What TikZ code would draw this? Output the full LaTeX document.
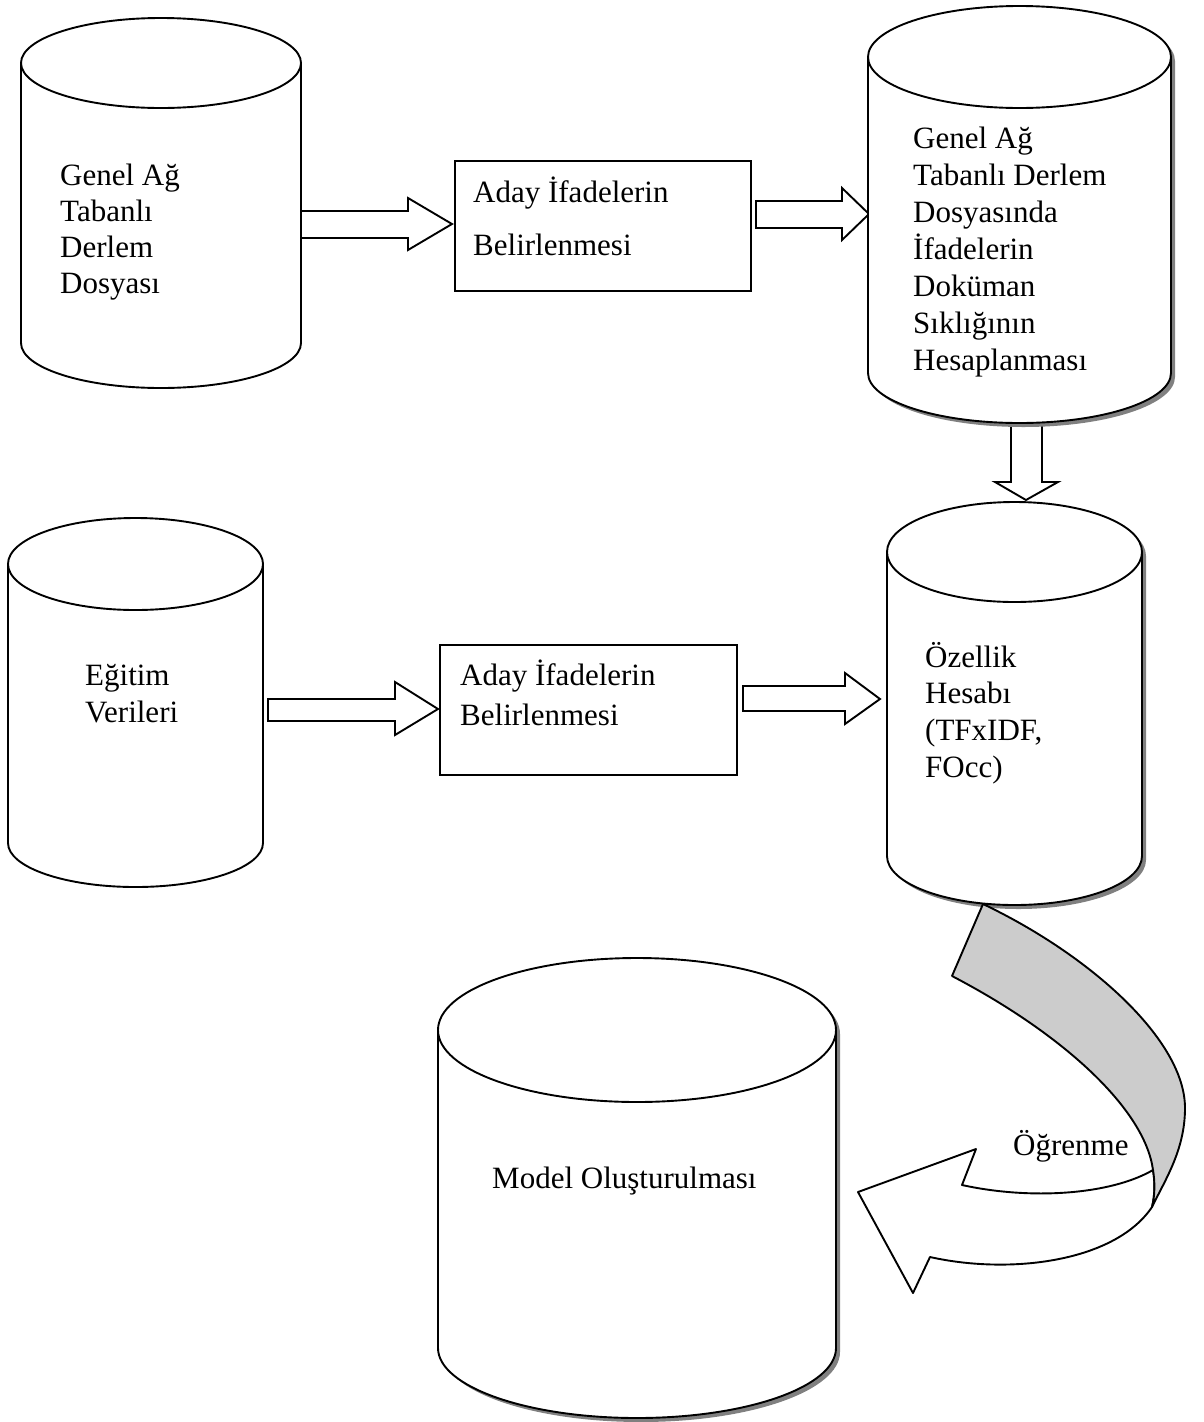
\documentclass[tikz,border=0pt]{standalone}
\usepackage{fontspec}
\setmainfont{Liberation Serif}
\tikzset{
  cylline/.style={line width=1.9pt, line join=round},
  blockarrow/.style={draw, fill=white, line width=1.9pt, line join=miter},
  txt/.style={font=\fontsize{31}{37}\selectfont, inner sep=0pt, anchor=base west},
  boxst/.style={draw, line width=1.9pt, inner sep=0pt, anchor=north west, fill=white},
  shadowc/.style={fill=black!50},
  ribbon/.style={draw, line width=1.9pt, line join=round}
}
\newcommand\cyOut{(\cyL,\cyT) -- (\cyL,\cyB) .. controls (\cyL,\cyB+\cyBK) and (\cyM-\cyK,\cyBB) .. (\cyM,\cyBB) .. controls (\cyM+\cyK,\cyBB) and (\cyR,\cyB+\cyBK) .. (\cyR,\cyB) -- (\cyR,\cyT) .. controls (\cyR,\cyT-\cyTK) and (\cyM+\cyK,\cyTT) .. (\cyM,\cyTT) .. controls (\cyM-\cyK,\cyTT) and (\cyL,\cyT-\cyTK) .. (\cyL,\cyT) -- cycle}
\newcommand\drawcyl[7]{%
  \pgfmathsetmacro\cyL{#1}\pgfmathsetmacro\cyR{#2}%
  \pgfmathsetmacro\cyM{(#1+#2)/2}\pgfmathsetmacro\cyK{0.5523*(#2-#1)/2}%
  \pgfmathsetmacro\cyT{#3}\pgfmathsetmacro\cyTK{0.5523*#4}%
  \pgfmathsetmacro\cyTT{#3-#4}\pgfmathsetmacro\cyTB{#3+#4}%
  \pgfmathsetmacro\cyB{#5}\pgfmathsetmacro\cyBK{0.5523*#6}\pgfmathsetmacro\cyBB{#5+#6}%
  \ifnum#7=1 \fill[shadowc, shift={(4,4)}] \cyOut; \fi
  \filldraw[fill=white, cylline] \cyOut;
  \draw[cylline] (\cyL,\cyT) .. controls (\cyL,\cyT+\cyTK) and (\cyM-\cyK,\cyTB) .. (\cyM,\cyTB) .. controls (\cyM+\cyK,\cyTB) and (\cyR,\cyT+\cyTK) .. (\cyR,\cyT);
}
\begin{document}
\begin{tikzpicture}[x=1pt,y=-1pt]
\useasboundingbox (0,0) rectangle (1203,1422);

% block arrows (drawn first, cylinders cover their tails)
\draw[blockarrow] (295,211) -- (408,211) -- (408,198) -- (452,224) -- (408,250) -- (408,238) -- (295,238) -- cycle;
\draw[blockarrow] (756,201) -- (842,201) -- (842,188) -- (869,214) -- (842,240) -- (842,228) -- (756,228) -- cycle;
\draw[blockarrow] (268,699) -- (395,699) -- (395,682) -- (438,709) -- (395,735) -- (395,721) -- (268,721) -- cycle;
\draw[blockarrow] (743,686) -- (845,686) -- (845,673) -- (880,699) -- (845,724) -- (845,711) -- (743,711) -- cycle;
\draw[blockarrow] (1011,415) -- (1011,482) -- (995,482) -- (1026,500) -- (1058,482) -- (1042,482) -- (1042,415) -- cycle;

% cylinders
\drawcyl{21}{301}{63}{45}{343}{45}{0}
\drawcyl{868}{1171}{57}{51}{373}{50}{1}
\drawcyl{887}{1142}{552}{50}{856}{49}{1}
\drawcyl{8}{263}{564}{46}{843}{44}{0}
\drawcyl{438}{836}{1030}{72}{1348}{70}{1}

% boxes
\node[boxst, minimum width=296pt, minimum height=130pt] (b1) at (454,160) {};
\node[boxst, minimum width=297pt, minimum height=130pt] (b2) at (439,644) {};

% texts
\node[txt] (c1a) at (60,185) {Genel Ağ};
\node[txt] (c1b) at (60,221) {Tabanlı};
\node[txt] (c1c) at (60,257) {Derlem};
\node[txt] (c1d) at (60,293) {Dosyası};

\node[txt] (b1a) at (473,202) {Aday İfadelerin};
\node[txt] (b1b) at (473,255) {Belirlenmesi};

\node[txt] (c2a) at (913,148) {Genel Ağ};
\node[txt] (c2b) at (913,185) {Tabanlı Derlem};
\node[txt] (c2c) at (913,222) {Dosyasında};
\node[txt] (c2d) at (913,259) {İfadelerin};
\node[txt] (c2e) at (913,296) {Doküman};
\node[txt] (c2f) at (913,333) {Sıklığının};
\node[txt] (c2g) at (913,370) {Hesaplanması};

\node[txt] (c4a) at (85,685) {Eğitim};
\node[txt] (c4b) at (85,722) {Verileri};

\node[txt] (b2a) at (460,685) {Aday İfadelerin};
\node[txt] (b2b) at (460,725) {Belirlenmesi};

\node[txt] (c3a) at (925,667) {Özellik};
\node[txt] (c3b) at (925,703) {Hesabı};
\node[txt] (c3c) at (925,740) {(TFxIDF,};
\node[txt] (c3d) at (925,777) {FOcc)};

\node[txt] (c5a) at (492,1188) {Model Oluşturulması};

% curved ribbon arrow
\coordinate (rA) at (983,904);
\coordinate (rB) at (952,976);
\coordinate (rR) at (1185,1108);
\coordinate (rF) at (1152,1207);
\coordinate (rJ) at (1153,1170);
\draw[ribbon, fill=white] (rJ) .. controls (1110,1195) and (1030,1200) .. (962,1185)
  -- (976,1149) -- (858,1192) -- (913,1293) -- (930,1257)
  .. controls (1010,1275) and (1115,1262) .. (rF)
  .. controls (1155,1195) and (1155,1182) .. (rJ) -- cycle;
\draw[ribbon, fill=black!20] (rA) .. controls (1090,955) and (1185,1040) .. (rR)
  .. controls (1185,1150) and (1165,1180) .. (rF)
  .. controls (1155,1195) and (1155,1182) .. (rJ)
  .. controls (1145,1110) and (1065,1035) .. (rB) -- cycle;
\node[txt] (lrn) at (1013,1155) {Öğrenme};
\end{tikzpicture}
\end{document}
